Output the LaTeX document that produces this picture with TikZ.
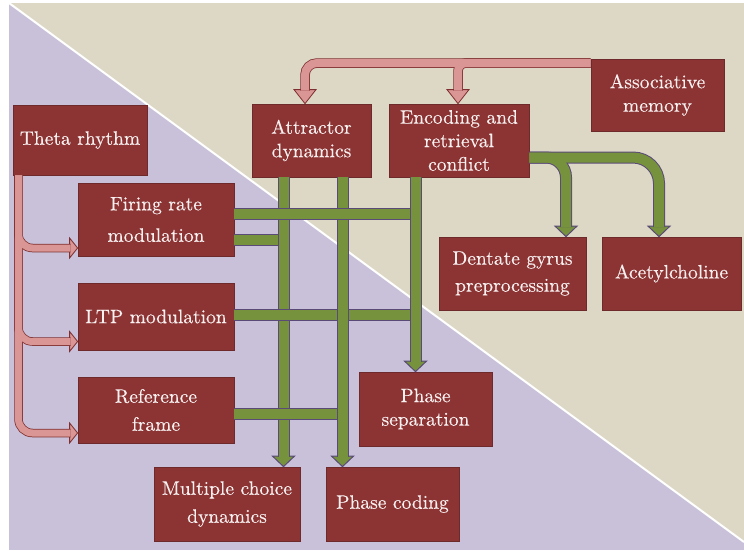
\documentclass[tikz,border=0pt]{standalone}
\usepackage{fontspec}
\newfontfamily\boxfont{lmroman10-regular}[Extension=.otf, FakeBold=0.2]
\usepackage{tikz}
\definecolor{bgpurple}{HTML}{C9C1DA}
\definecolor{bgbeige}{HTML}{DDD8C5}
\definecolor{boxf}{HTML}{8C3434}
\definecolor{boxb}{HTML}{6E2A2A}
\definecolor{boxt}{HTML}{F9F0F0}
\definecolor{gf}{HTML}{76923C}
\definecolor{gb}{HTML}{5A4A78}
\definecolor{pf}{HTML}{D99694}
\definecolor{pb}{HTML}{7F2F2F}
\tikzset{
  box/.style={draw=boxb, fill=boxf, line width=0.8pt, text=boxt, align=center,
    inner sep=0pt, font=\boxfont\fontsize{19.5}{23.5}\selectfont},
  gsh/.style={draw=gb, line width=1pt, double=gf, double distance=10pt},
  gB/.style={draw=gb, line width=12pt},
  gF/.style={draw=gf, line width=10pt},
  pB/.style={draw=pb, line width=8.5pt},
  pF/.style={draw=pf, line width=7pt},
  pBt/.style={draw=pb, line width=9.5pt},
  pFt/.style={draw=pf, line width=8pt},
  gdown/.pic={\filldraw[draw=gb, fill=gf, line width=1pt, line join=miter]
    (0,0) -- (-11,-10.5) -- (11,-10.5) -- cycle;},
  pdown/.pic={\filldraw[draw=pb, fill=pf, line width=0.8pt, line join=miter]
    (0,0) -- (-11,-14) -- (11,-14) -- cycle;},
  pright/.pic={\filldraw[draw=pb, fill=pf, line width=0.8pt, line join=miter]
    (0,0) -- (-8,-10) -- (-8,10) -- cycle;},
}
\begin{document}
\begin{tikzpicture}[x=1pt,y=-1pt]
\useasboundingbox (0,0) rectangle (744,550);
% background
\fill[bgpurple] (9,3) rectangle (744,550);
\fill[bgbeige] (9,3) -- (744,3) -- (744,542) -- cycle;
\draw[white, line width=2pt] (9,3) -- (744,542);

% boxes
\node[box, minimum width=134pt, minimum height=70pt] (th) at (80,140) {Theta rhythm};
\node[box, minimum width=156pt, minimum height=73pt] (fr) at (156,219.5) {Firing rate\\[8pt]modulation};
\node[box, minimum width=119pt, minimum height=73pt] (ad) at (311.5,140.5) {Attractor\\dynamics};
\node[box, minimum width=140pt, minimum height=73pt] (er) at (459,140.5) {Encoding and\\retrieval\\conflict};
\node[box, minimum width=133pt, minimum height=72pt] (am) at (657.5,95) {Associative\\memory};
\node[box, minimum width=147pt, minimum height=73pt] (dg) at (512.5,273.5) {Dentate gyrus\\[3.5pt]preprocessing};
\node[box, minimum width=139pt, minimum height=73pt] (ac) at (671.5,273.5) {Acetylcholine};
\node[box, minimum width=156pt, minimum height=67pt] (lt) at (156,316.5) {LTP modulation};
\node[box, minimum width=156pt, minimum height=66pt] (rf) at (156,410) {Reference\\[4.5pt]frame};
\node[box, minimum width=146pt, minimum height=74pt] (mc) at (227,504) {Multiple choice\\[4.5pt]dynamics};
\node[box, minimum width=133pt, minimum height=74pt] (pc) at (392.5,504) {Phase coding};
\node[box, minimum width=133pt, minimum height=74pt] (ps) at (425.5,409) {Phase\\separation};

% guide coordinates
\coordinate (xg1) at (283.5,0);
\coordinate (xg2) at (342.5,0);
\coordinate (xg3) at (415.5,0);
\coordinate (xp1) at (305,0);
\coordinate (xp2) at (458,0);
\coordinate (xdg) at (566,0);
\coordinate (xac) at (659,0);
\coordinate (xth) at (18.5,0);
\coordinate (yh1) at (0,213.5);
\coordinate (yh2) at (0,239.5);
\coordinate (yh3) at (0,315);
\coordinate (yh4) at (0,414);
\coordinate (yband) at (0,157.5);
\coordinate (ypink) at (0,63);
\coordinate (yt1) at (0,248);
\coordinate (yt2) at (0,341.5);
\coordinate (yt3) at (0,433);

% arrow heads
\pic at (mc.north -| xg1) {gdown};
\pic at (pc.north -| xg2) {gdown};
\pic at (ps.north -| xg3) {gdown};
\pic at (dg.north -| xdg) {gdown};
\pic at (ac.north -| xac) {gdown};
\pic at (ad.north -| xp1) {pdown};
\pic at (er.north -| xp2) {pdown};
\pic at (fr.west |- yt1) {pright};
\pic at (lt.west |- yt2) {pright};
\pic at (rf.west |- yt3) {pright};

% green connectors (order gives the crossings)
\draw[gsh] (fr.east |- yh2) -- (yh2 -| xg1);
\draw[gsh, shorten >=9.5pt] (ad.south -| xg1) -- (mc.north -| xg1);
\draw[gsh] (lt.east |- yh3) -- (yh3 -| xg3);
\draw[gsh] (rf.east |- yh4) -- (yh4 -| xg2);
\draw[gsh, shorten >=9.5pt] (ad.south -| xg2) -- (pc.north -| xg2);
\draw[gsh] (fr.east |- yh1) -- (yh1 -| xg3);
\draw[gsh, shorten >=9.5pt] (er.south -| xg3) -- (ps.north -| xg3);

% green branches from encoding
\draw[gB, rounded corners=20pt, shorten >=9.5pt] (er.east |- yband) -| (dg.north -| xdg);
\draw[gB, rounded corners=26pt, shorten >=9.5pt] (er.east |- yband) -| (ac.north -| xac);
\draw[gF, rounded corners=20pt, shorten >=9.5pt] (er.east |- yband) -| (dg.north -| xdg);
\draw[gF, rounded corners=26pt, shorten >=9.5pt] (er.east |- yband) -| (ac.north -| xac);

% pink from associative memory
\draw[pBt, rounded corners=12pt, shorten >=13pt] (am.west |- ypink) -| (ad.north -| xp1);
\draw[pBt, rounded corners=8pt, shorten >=13pt] (am.west |- ypink) -| (er.north -| xp2);
\draw[pFt, rounded corners=12pt, shorten >=13pt] (am.west |- ypink) -| (ad.north -| xp1);
\draw[pFt, rounded corners=8pt, shorten >=13pt] (am.west |- ypink) -| (er.north -| xp2);

% pink from theta rhythm
\draw[pB, rounded corners=14pt, shorten >=7pt] (th.south -| xth) |- (fr.west |- yt1);
\draw[pB, rounded corners=14pt, shorten >=7pt] (th.south -| xth) |- (lt.west |- yt2);
\draw[pB, rounded corners=14pt, shorten >=7pt] (th.south -| xth) |- (rf.west |- yt3);
\draw[pF, rounded corners=14pt, shorten >=7pt] (th.south -| xth) |- (fr.west |- yt1);
\draw[pF, rounded corners=14pt, shorten >=7pt] (th.south -| xth) |- (lt.west |- yt2);
\draw[pF, rounded corners=14pt, shorten >=7pt] (th.south -| xth) |- (rf.west |- yt3);
\end{tikzpicture}
\end{document}
